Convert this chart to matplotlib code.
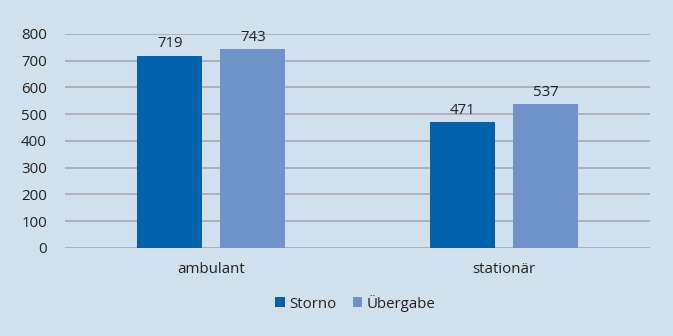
import numpy as np
import matplotlib.pyplot as plt

plt.rcParams['font.family'] = ['Open Sans', 'DejaVu Sans']

categories = ['ambulant', 'stationär']
storno = [719, 471]
uebergabe = [743, 537]
series_names = ['Storno', 'Übergabe']

bg = '#d0e1ed'
c_storno = '#0063aa'
c_ueb = '#6f93c8'
txt = '#231f20'
fs = 10.8

fig = plt.figure(figsize=(6.73, 3.36), dpi=100, facecolor=bg)
ax = fig.add_axes([0.0966, 0.262, 0.8694, 0.637], facecolor=bg)

x = np.arange(len(categories))
w = 0.222
off = 0.142
b1 = ax.bar(x - off, storno, w, color=c_storno, label=series_names[0], zorder=3)
b2 = ax.bar(x + off, uebergabe, w, color=c_ueb, label=series_names[1], zorder=3)

for bars in (b1, b2):
    for b in bars:
        ax.text(b.get_x() + b.get_width() / 2, b.get_height() + 16, str(int(b.get_height())),
                ha='center', va='bottom', fontsize=fs, color=txt)

ax.set_xlim(-0.5, 1.5)
ax.set_ylim(0, 800)
ax.set_yticks(range(0, 801, 100))
ax.yaxis.grid(True, color='#a9afb5', linewidth=1.3, zorder=0)
ax.set_axisbelow(True)
for s in ax.spines.values():
    s.set_visible(False)
ax.tick_params(axis='both', length=0, labelsize=fs, colors=txt)
ax.tick_params(axis='y', pad=13)
ax.tick_params(axis='x', pad=10)
ax.set_xticks(x)
ax.set_xticklabels(categories)

leg = ax.legend(loc='upper center', bbox_to_anchor=(0.496, -0.155), ncol=2, frameon=False,
                fontsize=fs, handlelength=0.65, handleheight=0.65, handletextpad=0.25,
                columnspacing=1.1)
for t in leg.get_texts():
    t.set_color(txt)

fig.savefig('out.png', dpi=100, facecolor=bg)
